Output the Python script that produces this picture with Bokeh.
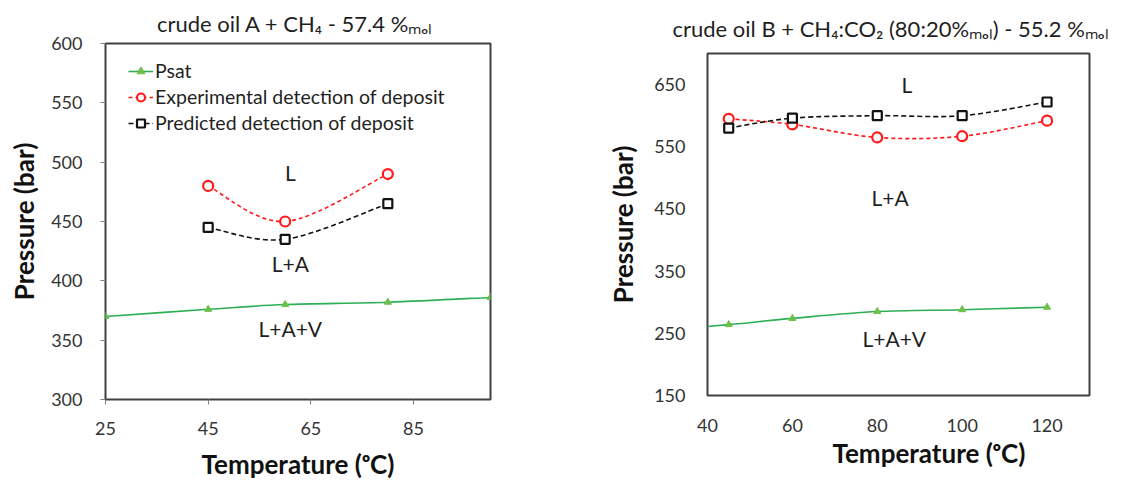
from bokeh.plotting import figure
from bokeh.models import Range1d, FixedTicker, Legend, LegendItem, ColumnDataSource, Title, Spacer
from bokeh.layouts import row, column
from bokeh.core.properties import value
from bokeh.embed import file_html
from bokeh.resources import INLINE

# ---------------- data ----------------
# Left: crude oil A + CH4
a_psat_T = [25, 45, 60, 80, 100]
a_psat_P = [370, 376, 380, 382, 386]
a_exp_T = [45, 60, 80]
a_exp_P = [480, 450, 490]
a_pred_T = [45, 60, 80]
a_pred_P = [445, 435, 465]
a_xticks = [25, 45, 65, 85]
a_yticks = [300, 350, 400, 450, 500, 550, 600]
a_regions = ["L", "L+A", "L+A+V"]
a_region_T = [61, 61, 61]
a_region_P = [491, 415, 360]

# Right: crude oil B + CH4:CO2
b_psat_T = [25, 45, 60, 80, 100, 120]
b_psat_P = [252, 264, 274, 285, 288, 292]
b_exp_T = [45, 60, 80, 100, 120]
b_exp_P = [595, 586, 565, 567, 592]
b_pred_T = [45, 60, 80, 100, 120]
b_pred_P = [580, 596, 600, 600, 622]
b_xticks = [40, 60, 80, 100, 120]
b_yticks = [150, 250, 350, 450, 550, 650]
b_regions = ["L", "L+A", "L+A+V"]
b_region_T = [87, 83, 84]
b_region_P = [650, 469, 242]

TITLE_A = "crude oil A  + CH₄ - 57.4 %ₘₒₗ"
TITLE_B = "crude oil B + CH₄:CO₂ (80:20%ₘₒₗ) - 55.2 %ₘₒₗ"
XLABEL = "Temperature (ᵒC)"
YLABEL = "Pressure (bar)"

FONT = "Lato"
TXT = "#1f1f1f"
GREEN = "#2eaf55"
GREEN_M = "#6cc04a"
RED = "#ff1a1a"
BLACK = "#111111"


def smooth(xs, ys, t=1.0 / 6.0):
    """Excel-like smoothed line: cubic Bezier control points derived from the data."""
    n = len(xs)
    d = dict(x0=[], y0=[], x1=[], y1=[], cx0=[], cy0=[], cx1=[], cy1=[])
    for i in range(n - 1):
        a = i - 1 if i > 0 else i
        b = i + 2 if i + 2 < n else i + 1
        d["x0"].append(xs[i]); d["y0"].append(ys[i])
        d["x1"].append(xs[i + 1]); d["y1"].append(ys[i + 1])
        d["cx0"].append(xs[i] + (xs[i + 1] - xs[a]) * t)
        d["cy0"].append(ys[i] + (ys[i + 1] - ys[a]) * t)
        d["cx1"].append(xs[i + 1] - (xs[b] - xs[i]) * t)
        d["cy1"].append(ys[i + 1] - (ys[b] - ys[i]) * t)
    return ColumnDataSource(d)


def series(p, xs, ys, color, dash, marker, mcolor, mfill, msize, mwidth):
    bz = p.bezier(x0="x0", y0="y0", x1="x1", y1="y1", cx0="cx0", cy0="cy0",
                  cx1="cx1", cy1="cy1", source=smooth(xs, ys),
                  line_color=color, line_width=1.6, line_dash=dash)
    sc = p.scatter(xs, ys, marker=marker, size=msize, line_color=mcolor,
                   fill_color=mfill, line_width=mwidth)
    return [bz, sc]


def make(xr, yr, xt, yt, width, height, fw, fh, bl, br, bt, bb, title, align, toff, tstand):
    t = Title(text=title, align=align, offset=toff, text_font=FONT,
              text_font_size="22px", text_font_style="normal",
              text_color=TXT, standoff=tstand)
    p = figure(width=width, height=height, frame_width=fw, frame_height=fh,
               x_range=Range1d(*xr), y_range=Range1d(*yr), title=t,
               output_backend="svg", toolbar_location=None,
               min_border_left=bl, min_border_right=br,
               min_border_top=bt, min_border_bottom=bb)
    p.xgrid.visible = False
    p.ygrid.visible = False
    p.outline_line_color = "#404040"
    p.outline_line_width = 2
    p.outline_line_alpha = 1
    p.background_fill_color = "white"
    p.border_fill_color = "white"
    p.xaxis.ticker = FixedTicker(ticks=xt)
    p.yaxis.ticker = FixedTicker(ticks=yt)
    p.yaxis.axis_label = YLABEL
    for ax in (p.xaxis, p.yaxis):
        ax.axis_line_color = None
        ax.minor_tick_line_color = None
        ax.major_tick_in = 0
        ax.major_tick_out = 5
        ax.major_tick_line_color = "#808080"
        ax.major_label_text_font = FONT
        ax.major_label_text_font_size = "18px"
        ax.major_label_text_color = "#333333"
        ax.axis_label_text_font = FONT
        ax.axis_label_text_font_size = "26px"
        ax.axis_label_text_font_style = "bold"
        ax.axis_label_text_color = "#111111"
    return p


# ---------- left ----------
pa = make((25, 100), (300, 600), a_xticks, a_yticks, 560, 481, 385, 356,
          105, 70, 43, 82, TITLE_A, "center", 0, 14)
pa.xaxis.axis_label = XLABEL
pa.xaxis.major_label_standoff = 17
pa.xaxis.axis_label_standoff = 10
pa.yaxis.major_label_standoff = 18
pa.yaxis.axis_label_standoff = 8

r_psat = series(pa, a_psat_T, a_psat_P, GREEN, "solid", "triangle", GREEN_M, GREEN_M, 7, 1)
r_exp = series(pa, a_exp_T, a_exp_P, RED, "4 3", "circle", RED, "white", 10, 2.2)
r_pred = series(pa, a_pred_T, a_pred_P, BLACK, "5 3", "square", BLACK, "white", 9, 2.2)

pa.text(a_region_T, a_region_P, text=a_regions, text_font=value(FONT),
        text_font_size="21px", text_color=TXT, text_align="center",
        text_baseline="middle")

leg = Legend(items=[LegendItem(label="Psat", renderers=r_psat),
                    LegendItem(label="Experimental detection of deposit", renderers=r_exp),
                    LegendItem(label="Predicted detection of deposit", renderers=r_pred)],
             location=(23, 265), border_line_color=None, background_fill_alpha=0,
             label_text_font=FONT, label_text_font_size="19.5px",
             label_text_color=TXT, glyph_width=25, glyph_height=20,
             label_height=20, spacing=3, padding=5, margin=0,
             label_standoff=2)
pa.add_layout(leg)

# ---------- right ----------
pb = make((40, 130), (150, 700), b_xticks, b_yticks, 583, 481, 382, 342,
          147, 54, 53, 86, TITLE_B, "left", -35, 24)
pb.xaxis.major_tick_out = 0
pb.yaxis.major_tick_out = 0
pb.xaxis.major_label_standoff = 23
pb.yaxis.major_label_standoff = 22
pb.yaxis.axis_label_standoff = 12
pb.add_layout(Title(text=XLABEL, align="left", offset=125, text_font=FONT,
                    text_font_size="26px", text_font_style="bold",
                    text_color="#111111", standoff=0), "below")

series(pb, b_psat_T, b_psat_P, GREEN, "solid", "triangle", GREEN_M, GREEN_M, 7, 1)
series(pb, b_exp_T, b_exp_P, RED, "4 3", "circle", RED, "white", 10, 2.2)
series(pb, b_pred_T, b_pred_P, BLACK, "5 3", "square", BLACK, "white", 9, 2.2)

pb.text(b_region_T, b_region_P, text=b_regions, text_font=value(FONT),
        text_font_size="21px", text_color=TXT, text_align="center",
        text_baseline="middle")

layout = row(pa, column(Spacer(width=583, height=0), pb))
open("out.html", "w").write(file_html(layout, INLINE))
